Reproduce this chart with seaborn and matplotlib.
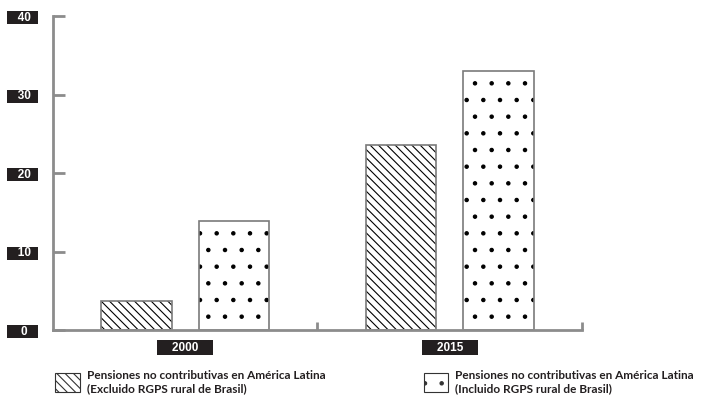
import seaborn as sns
import matplotlib.pyplot as plt
import pandas as pd
from matplotlib.patches import Patch

# datos
anios = ["2000", "2015"]
excluido = [3.7, 23.6]
incluido = [13.9, 33.0]
series = [
    "Pensiones no contributivas en América Latina\n(Excluido RGPS rural de Brasil)",
    "Pensiones no contributivas en América Latina\n(Incluido RGPS rural de Brasil)",
]
yticks = [0, 10, 20, 30, 40]

df = pd.DataFrame({
    "anio": anios + anios,
    "serie": [series[0]] * 2 + [series[1]] * 2,
    "valor": excluido + incluido,
})

sns.set_style("white")
plt.rcParams["font.family"] = ["Lato", "DejaVu Sans"]
plt.rcParams["hatch.linewidth"] = 0.8

gris = "#8c8c8c"
negro = "#231f20"
hatches = ["\\\\\\\\", "."]

fig = plt.figure(figsize=(7.15, 4.0), dpi=100)
ax = fig.add_axes([0.074, 0.174, 0.740, 0.785])

# relleno con trama (trama negra, sin borde)
sns.barplot(data=df, x="anio", y="valor", hue="serie", order=anios, hue_order=series,
            palette=["white", "white"], width=0.736, gap=0.277,
            edgecolor="black", linewidth=0, legend=False, ax=ax)
for cont, h in zip(ax.containers, hatches):
    for bar in cont:
        bar.set_hatch(h)

# borde gris de las barras
sns.barplot(data=df, x="anio", y="valor", hue="serie", order=anios, hue_order=series,
            palette=["#7a7a7a", "#7a7a7a"], width=0.736, gap=0.277, fill=False,
            linewidth=1.2, legend=False, ax=ax)

ax.set_xlim(-0.5, 1.5)
ax.set_ylim(0, 40)
sns.despine(ax=ax)
for s in ["left", "bottom"]:
    ax.spines[s].set_color(gris)
    ax.spines[s].set_linewidth(2)

ax.set_xlabel("")
ax.set_ylabel("")

# eje y: etiquetas en cajas negras del mismo ancho
# (en Liberation Sans un espacio mide medio digito)
ax.set_yticks(yticks)
ax.set_yticklabels([f"   {v}  " if v >= 10 else f"    {v}   " for v in yticks])
ax.tick_params(axis="y", left=True, direction="in", length=8.5, width=2, color=gris, pad=22)
for lab in ax.get_yticklabels():
    lab.set_ha("center")
    lab.set_color("white")
    lab.set_family("Liberation Sans")
    lab.set_fontweight("bold")
    lab.set_fontsize(8.5)
    lab.set_bbox(dict(boxstyle="square,pad=0.05", fc=negro, ec="none"))

# eje x
ax.set_xticks([0, 1])
ax.set_xticklabels([f"    {a}    " for a in anios])
ax.set_xticks([0.5, 1.5], minor=True)
ax.tick_params(axis="x", which="major", bottom=True, length=0, pad=8)
ax.tick_params(axis="x", which="minor", bottom=True, direction="in", length=6, width=2, color=gris)
for lab in ax.get_xticklabels():
    lab.set_color("white")
    lab.set_family("Liberation Sans")
    lab.set_fontweight("bold")
    lab.set_fontsize(8.5)
    lab.set_bbox(dict(boxstyle="square,pad=0.15", fc=negro, ec="none"))

# leyenda
handles = [Patch(facecolor="white", edgecolor="#333333", hatch=h, linewidth=0.8) for h in hatches]
fig.legend(handles, series, loc="upper left", bbox_to_anchor=(0.077, 0.075), ncol=2,
           frameon=False, prop={"weight": "bold", "size": 8.5}, labelcolor=negro,
           handlelength=2.1, handleheight=2.1, handletextpad=0.6, columnspacing=8.3,
           borderpad=0, borderaxespad=0, labelspacing=0)

fig.savefig("out.png", dpi=100)
